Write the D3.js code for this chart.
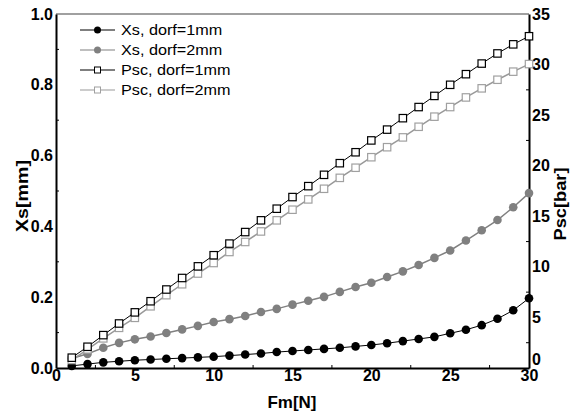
<!DOCTYPE html>
<html><head><meta charset="utf-8">
<script src="https://cdn.jsdelivr.net/npm/d3@7"></script>
<style>body{margin:0;background:#fff}svg{display:block}</style>
</head><body>
<svg id="c" width="574" height="416"></svg>
<script>
const force = [1,2,3,4,5,6,7,8,9,10,11,12,13,14,15,16,17,18,19,20,21,22,23,24,25,26,27,28,29,30];
const xs1 = [0.006,0.011,0.016,0.019,0.022,0.024,0.026,0.028,0.030,0.032,0.035,0.038,0.041,0.045,0.048,0.051,0.054,0.057,0.061,0.065,0.070,0.076,0.082,0.088,0.098,0.108,0.121,0.139,0.163,0.197];
const xs2 = [0.027,0.040,0.057,0.071,0.081,0.089,0.099,0.109,0.119,0.130,0.138,0.147,0.158,0.167,0.179,0.190,0.201,0.215,0.229,0.241,0.257,0.273,0.291,0.311,0.332,0.360,0.389,0.418,0.454,0.494];
const psc1 = [1.02,2.1,3.25,4.4,5.5,6.6,7.76,8.9,10.05,11.15,12.3,13.44,14.6,15.75,16.9,17.98,19.1,20.25,21.33,22.5,23.57,24.7,25.8,26.9,28.0,29.05,30.1,31.1,32.0,32.8];
const psc2 = [0.79,1.84,2.93,3.97,4.96,6.1,7.2,8.28,9.34,10.38,11.47,12.46,13.5,14.6,15.65,16.67,17.72,18.8,19.8,20.84,21.83,22.8,23.85,24.85,25.8,26.75,27.65,28.5,29.3,30.05];
const xTicks = [0,5,10,15,20,25,30];
const yLeftTicks = [0,0.2,0.4,0.6,0.8,1.0];
const yRightTicks = [0,5,10,15,20,25,30,35];
const labels = ["Xs, dorf=1mm","Xs, dorf=2mm","Psc, dorf=1mm","Psc, dorf=2mm"];

const svg = d3.select("#c");
const L=56,R=529,T=14,B=368;
const x = d3.scaleLinear().domain([0,30]).range([L,R]);
const yl = d3.scaleLinear().domain([0,1]).range([B,T]);
const yr = d3.scaleLinear().domain([0,35]).range([B,T]);
const font = "Liberation Sans, Arial, sans-serif";

// frame top
svg.append("line").attr("x1",L).attr("x2",R).attr("y1",T).attr("y2",T).attr("stroke","#808080").attr("stroke-width",1.5);

// axes
const ax = svg.append("g").attr("transform",`translate(0,${B})`)
  .call(d3.axisBottom(x).tickValues(xTicks).tickSize(0).tickPadding(3).tickFormat(d3.format("d")));
const ayl = svg.append("g").attr("transform",`translate(${L},0)`)
  .call(d3.axisLeft(yl).tickValues(yLeftTicks).tickSize(0).tickPadding(3).tickFormat(d3.format(".1f")));
const ayr = svg.append("g").attr("transform",`translate(${R},0)`)
  .call(d3.axisRight(yr).tickValues(yRightTicks).tickSize(0).tickPadding(3).tickFormat(d3.format("d")));
[ax,ayl,ayr].forEach(g=>{
  g.select(".domain").attr("stroke","#000").attr("stroke-width",2);
  g.selectAll("text").attr("font-family",font).attr("font-weight","bold").attr("font-size",16).attr("fill","#000");
});
ax.selectAll("text").attr("dy","0.6em");
ayr.selectAll("text").filter(d=>d===0).attr("dy","-0.22em");
// inward minor ticks
const minorX = d3.range(2.5,30,5), minorYL=d3.range(0.1,1,0.2), minorYR=d3.range(2.5,35,5);
svg.append("g").selectAll("line").data(minorX).join("line")
  .attr("x1",d=>x(d)).attr("x2",d=>x(d)).attr("y1",B).attr("y2",B-3).attr("stroke","#000");
svg.append("g").selectAll("line").data(minorYL).join("line")
  .attr("x1",L).attr("x2",L+3).attr("y1",d=>yl(d)).attr("y2",d=>yl(d)).attr("stroke","#000");
svg.append("g").selectAll("line").data(minorYR).join("line")
  .attr("x1",R).attr("x2",R-3).attr("y1",d=>yr(d)).attr("y2",d=>yr(d)).attr("stroke","#000");

// titles
svg.append("text").attr("x",292).attr("y",408).attr("text-anchor","middle")
  .attr("font-family",font).attr("font-weight","bold").attr("font-size",17)
  .attr("textLength",49).attr("lengthAdjust","spacingAndGlyphs").text("Fm[N]");
svg.append("text").attr("transform","translate(28,196) rotate(-90)").attr("text-anchor","middle")
  .attr("font-family",font).attr("font-weight","bold").attr("font-size",17)
  .attr("textLength",72).attr("lengthAdjust","spacingAndGlyphs").text("Xs[mm]");
svg.append("text").attr("transform","translate(566,204) rotate(-90)").attr("text-anchor","middle")
  .attr("font-family",font).attr("font-weight","bold").attr("font-size",17)
  .attr("textLength",73).attr("lengthAdjust","spacingAndGlyphs").text("Psc[bar]");

const series = [
  {v:xs1, y:yl, line:"#000", lw:1, shape:"circle", fill:"#000", stroke:"none"},
  {v:xs2, y:yl, line:"#808080", lw:1.5, shape:"circle", fill:"#808080", stroke:"none"},
  {v:psc2, y:yr, line:"#999", lw:1.5, shape:"square", fill:"#fff", stroke:"#a0a0a0"},
  {v:psc1, y:yr, line:"#000", lw:1, shape:"square", fill:"#fff", stroke:"#000"}
];
series.forEach(s=>{
  const pts = force.map((f,i)=>[x(f), s.y(s.v[i])]);
  svg.append("path").attr("d",d3.line()(pts)).attr("fill","none").attr("stroke",s.line).attr("stroke-width",s.lw);
  const g = svg.append("g");
  if(s.shape==="circle"){
    g.selectAll("circle").data(pts).join("circle").attr("cx",d=>d[0]).attr("cy",d=>d[1]).attr("r",4.3).attr("fill",s.fill);
  } else {
    g.selectAll("rect").data(pts).join("rect").attr("x",d=>d[0]-3.7).attr("y",d=>d[1]-3.7)
      .attr("width",7.4).attr("height",7.4).attr("fill",s.fill).attr("stroke",s.stroke).attr("stroke-width",1.2);
  }
});

// legend
const leg = [
  {line:"#000", shape:"circle", fill:"#000", stroke:"none"},
  {line:"#808080", shape:"circle", fill:"#808080", stroke:"none"},
  {line:"#000", shape:"square", fill:"#fff", stroke:"#000"},
  {line:"#999", shape:"square", fill:"#fff", stroke:"#a0a0a0"}
];
leg.forEach((l,i)=>{
  const cy = 30 + i*20;
  const g = svg.append("g");
  g.append("line").attr("x1",80).attr("x2",115).attr("y1",cy).attr("y2",cy).attr("stroke",l.line).attr("stroke-width",1.2);
  if(l.shape==="circle") g.append("circle").attr("cx",97.5).attr("cy",cy).attr("r",3.5).attr("fill",l.fill);
  else g.append("rect").attr("x",94.5).attr("y",cy-3).attr("width",6).attr("height",6).attr("fill","#fff").attr("stroke",l.stroke);
  const t = g.append("text").attr("x",121).attr("y",cy).attr("dy","0.35em").attr("font-family",font).attr("font-size",15)
    .attr("lengthAdjust","spacingAndGlyphs").text(labels[i]);
  t.attr("textLength", t.node().getComputedTextLength()*1.08);
});
</script>
</body></html>
